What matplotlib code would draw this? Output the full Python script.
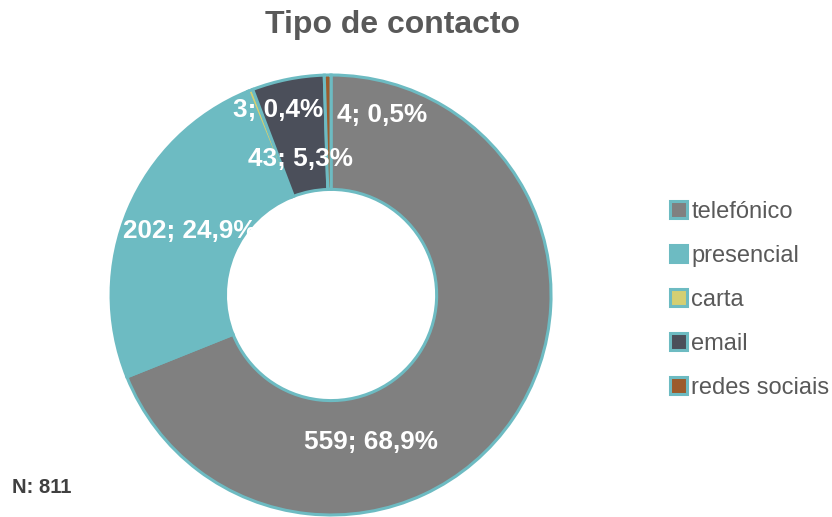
import matplotlib.pyplot as plt
from matplotlib.patches import Patch

categories = ["telefónico", "presencial", "carta", "email", "redes sociais"]
counts = [559, 202, 3, 43, 4]
percent_labels = ["68,9%", "24,9%", "0,4%", "5,3%", "0,5%"]
colors = ["#808080", "#6DBBC2", "#D4CF72", "#4B4F5A", "#9C5B2B"]
edge_color = "#6DBBC2"
total_n = 811

# where each label sits, (x, y) relative to the pie centre, in radius units
label_pos = [(0.18, -0.67), (-0.64, 0.29), (-0.24, 0.84), (-0.14, 0.62), (0.23, 0.82)]

plt.rcParams["font.family"] = ["Liberation Sans", "DejaVu Sans"]

fig = plt.figure(figsize=(8.32, 5.17), dpi=100)
ax = fig.add_axes([0.1334, 0.0039, 0.529, 0.851])

wedges, _ = ax.pie(
    counts,
    colors=colors,
    startangle=90,
    counterclock=False,
    radius=1.0,
    wedgeprops=dict(width=0.52, edgecolor=edge_color, linewidth=2.2),
)
ax.set_xlim(-1, 1)
ax.set_ylim(-1, 1)
ax.set_aspect("equal")

for c, p, (x, y) in zip(counts, percent_labels, label_pos):
    ax.text(x, y, f"{c}; {p}", ha="center", va="center", color="white",
            fontsize=18.8, fontweight="bold")

fig.text(0.472, 0.952, "Tipo de contacto", ha="center", va="center",
         fontsize=23, fontweight="bold", color="#595959")
fig.text(0.014, 0.058, f"N: {total_n}", ha="left", va="center",
         fontsize=14.5, fontweight="bold", color="#404040")

handles = [Patch(facecolor=col, edgecolor=edge_color, linewidth=2.2) for col in colors]
leg = fig.legend(handles, categories, loc="center left", bbox_to_anchor=(0.78, 0.42),
                 frameon=False, fontsize=17, handlelength=0.7, handleheight=0.7,
                 handletextpad=0.2, labelspacing=0.93)
for t in leg.get_texts():
    t.set_color("#595959")

fig.savefig("out.png", dpi=100)
